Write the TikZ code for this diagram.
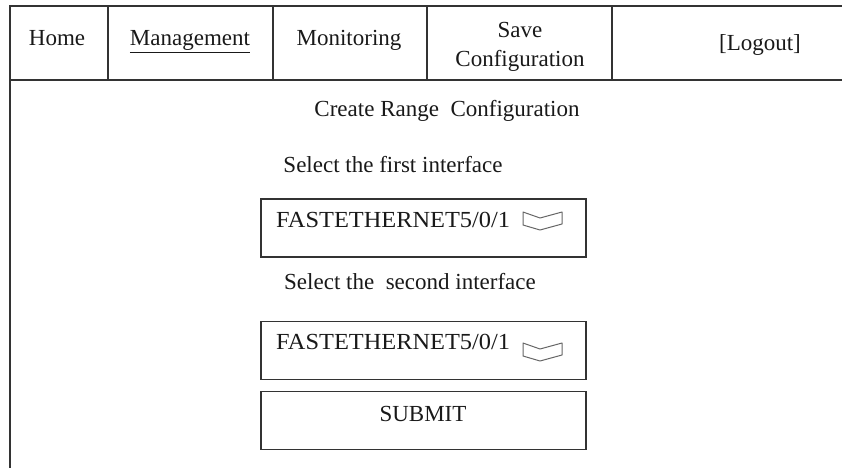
\documentclass[tikz,border=0pt]{standalone}
\usepackage{fontspec}
\setmainfont{Liberation Serif}
\newfontfamily\widefont[FakeStretch=1.06]{Liberation Serif}
\begin{document}
\begin{tikzpicture}[x=1pt,y=-1pt,
  frame/.style={line width=1.5pt, draw=black!80},
  boxline/.style={line width=1.1pt, draw=black!80},
  lbl/.style={anchor=base, inner sep=0pt, font=\fontsize{23}{27}\selectfont, text=black!90},
  field/.style={boxline, minimum width=325pt, minimum height=58pt, inner sep=0pt},
  iconline/.style={line width=1pt, draw=black!60, line join=round},
  dropdown/.pic={\draw[iconline] (0,0) -- (17,6) -- (39,0) -- (39,12) -- (17,18) -- (0,13) -- cycle;}]
\useasboundingbox (0,0) rectangle (842,468);

% page frame and menu bar
\coordinate (tl) at (10,6);
\coordinate (tr) at (842,6);
\coordinate (bl) at (10,468);
\coordinate (ml) at (10,80);
\coordinate (mr) at (842,80);
\draw[frame] (tr) -- (tl) -- (bl);
\draw[frame] (ml) -- (mr);
\foreach \x/\n in {108/a,273/b,427/c,612/d} {
  \coordinate (dt\n) at (\x,6);
  \coordinate (db\n) at (\x,80);
  \draw[frame] (dt\n) -- (db\n);
}

% menu entries
\node[lbl] (home) at (57,46) {Home};
\node[lbl] (mgmt) at (190,46) {\underline{Management}};
\node[lbl] (mon) at (349,46) {Monitoring};
\node[lbl] (save1) at (520,38) {Save};
\node[lbl] (save2) at (520,67) {Configuration};
\node[lbl] (logout) at (760,51) {[Logout]};

% form
\node[lbl] (title) at (447,117) {Create Range\ \ Configuration};
\node[lbl] (first) at (393,172) {Select the first interface};
\node[field] (box1) at (423.5,228) {};
\node[lbl, anchor=base west] (if1) at (276,227) {\widefont FASTETHERNET5/0/1};
\pic at (523,212) {dropdown};

\node[lbl] (second) at (410,289) {Select the\ \ second interface};
\node[field] (box2) at (423.5,350.5) {};
\node[lbl, anchor=base west] (if2) at (276,349) {\widefont FASTETHERNET5/0/1};
\pic at (523,343) {dropdown};

\node[field] (box3) at (423.5,420.5) {};
\node[lbl] (submit) at (423,421) {SUBMIT};
\end{tikzpicture}
\end{document}
